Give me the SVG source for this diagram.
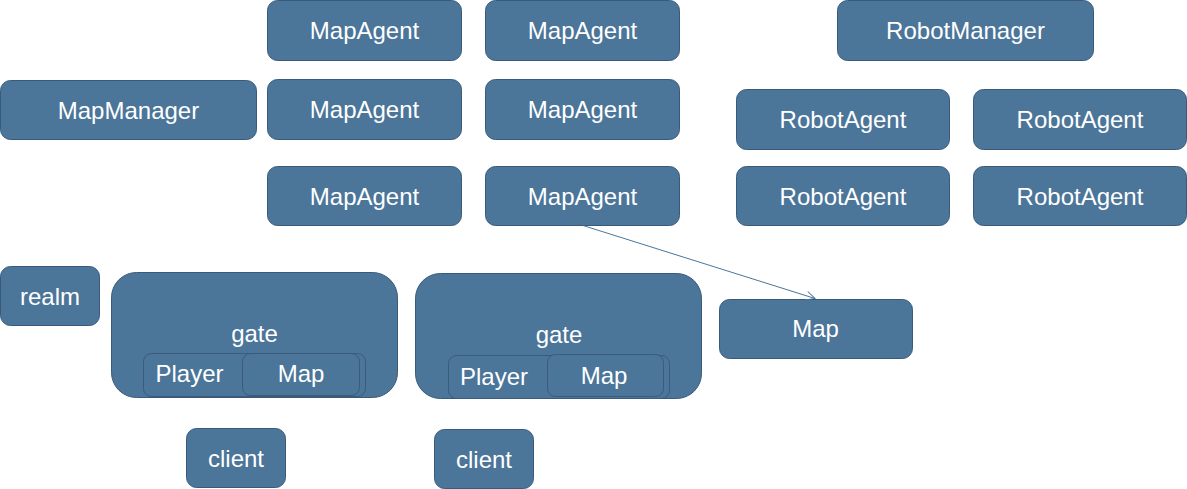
<svg xmlns="http://www.w3.org/2000/svg" width="1187" height="489" viewBox="0 0 1187 489">
<style>
.box{fill:#4b7599;stroke:#385a7b;stroke-width:1}
.in{fill:#4b7599;stroke:#3a5b7c;stroke-width:1}
.t{fill:#ffffff;font-family:"Liberation Sans",Arial,sans-serif;font-size:24px;text-anchor:middle}
.tl{fill:#ffffff;font-family:"Liberation Sans",Arial,sans-serif;font-size:24px}
.conn{stroke:#4b7599;stroke-width:1;fill:none}
</style>
<defs>
<marker id="arr" markerWidth="12" markerHeight="12" refX="10" refY="5" orient="auto" markerUnits="userSpaceOnUse">
<path d="M1,0.5 L10,5 L1,9.5" fill="none" stroke="#4b7599" stroke-width="1"/>
</marker>
</defs>
<rect width="1187" height="489" fill="#ffffff"/>
<g id="mapagent1"><rect class="box" x="267.5" y="0.5" width="194" height="60" rx="10"/><text class="t" x="364.5" y="38.5">MapAgent</text></g>
<g id="mapagent2"><rect class="box" x="485.5" y="0.5" width="194" height="60" rx="10"/><text class="t" x="582.5" y="38.5">MapAgent</text></g>
<g id="mapmanager"><rect class="box" x="0.5" y="80.5" width="256" height="59" rx="10"/><text class="t" x="128.5" y="118.5">MapManager</text></g>
<g id="mapagent3"><rect class="box" x="267.5" y="79.5" width="194" height="60" rx="10"/><text class="t" x="364.5" y="117.5">MapAgent</text></g>
<g id="mapagent4"><rect class="box" x="485.5" y="79.5" width="194" height="60" rx="10"/><text class="t" x="582.5" y="117.5">MapAgent</text></g>
<g id="mapagent5"><rect class="box" x="267.5" y="166.5" width="194" height="59" rx="10"/><text class="t" x="364.5" y="204.5">MapAgent</text></g>
<g id="mapagent6"><rect class="box" x="485.5" y="166.5" width="194" height="59" rx="10"/><text class="t" x="582.5" y="204.5">MapAgent</text></g>
<g id="robotmanager"><rect class="box" x="837.5" y="0.5" width="256" height="60" rx="10"/><text class="t" x="965.5" y="38.5">RobotManager</text></g>
<g id="robotagent1"><rect class="box" x="736.5" y="89.5" width="213" height="60" rx="10"/><text class="t" x="843" y="127.5">RobotAgent</text></g>
<g id="robotagent2"><rect class="box" x="973.5" y="89.5" width="213" height="60" rx="10"/><text class="t" x="1080" y="127.5">RobotAgent</text></g>
<g id="robotagent3"><rect class="box" x="736.5" y="166.5" width="213" height="59" rx="10"/><text class="t" x="843" y="204.5">RobotAgent</text></g>
<g id="robotagent4"><rect class="box" x="973.5" y="166.5" width="213" height="59" rx="10"/><text class="t" x="1080" y="204.5">RobotAgent</text></g>
<g id="realm"><rect class="box" x="0.5" y="266.5" width="99" height="59" rx="10"/><text class="t" x="50" y="304.5">realm</text></g>
<g id="gate1">
<rect class="box" x="111.5" y="272.5" width="286" height="125" rx="25"/>
<text class="t" x="254.5" y="342">gate</text>
<rect class="in" x="143.5" y="353.5" width="222" height="43" rx="8"/>
<text class="tl" x="155.5" y="382">Player</text>
<rect class="in" x="242.5" y="353.5" width="117" height="42" rx="8"/>
<text class="t" x="301" y="382">Map</text>
</g>
<g id="gate2">
<rect class="box" x="415.5" y="273.5" width="286" height="125" rx="25"/>
<text class="t" x="559" y="343">gate</text>
<rect class="in" x="448.5" y="355.5" width="221" height="43" rx="8"/>
<text class="tl" x="460" y="385">Player</text>
<rect class="in" x="547.5" y="354.5" width="116" height="42" rx="8"/>
<text class="t" x="604" y="384">Map</text>
</g>
<g id="map"><rect class="box" x="719.5" y="299.5" width="193" height="59" rx="10"/><text class="t" x="815.5" y="337">Map</text></g>
<g id="client1"><rect class="box" x="186.5" y="428.5" width="99" height="59" rx="10"/><text class="t" x="236" y="466.5">client</text></g>
<g id="client2"><rect class="box" x="434.5" y="429.5" width="99" height="59" rx="10"/><text class="t" x="484" y="467.5">client</text></g>
<g id="connectors">
<line class="conn" x1="583" y1="225.5" x2="815" y2="298.5" marker-end="url(#arr)"/>
</g>
</svg>
